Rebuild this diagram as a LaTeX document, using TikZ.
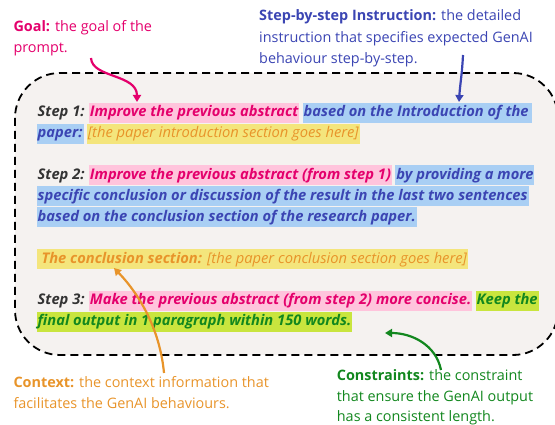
\documentclass[tikz,border=0pt]{standalone}
\usepackage{fontspec}
\setmainfont{Open Sans}
\usetikzlibrary{arrows.meta}
\definecolor{mag}{HTML}{E4006C}
\definecolor{pinkhl}{HTML}{FFC4DC}
\definecolor{bluetx}{HTML}{3B45B3}
\definecolor{bluehl}{HTML}{A9CFF4}
\definecolor{orangetx}{HTML}{E8942A}
\definecolor{yellowhl}{HTML}{F4E57C}
\definecolor{greentx}{HTML}{12871E}
\definecolor{greenhl}{HTML}{C9E53E}
\definecolor{graytx}{HTML}{333333}
\definecolor{boxfill}{HTML}{F5F2F0}
\tikzset{
  seg/.style={anchor=base west, inner xsep=1pt, inner ysep=0pt, text height=14.4pt, text depth=5.6pt,
    font=\fontsize{14.7}{17}\selectfont\bfseries\itshape},
  lbl/.style={seg, text=graytx},
  pk/.style={seg, fill=pinkhl, text=mag},
  bl/.style={seg, fill=bluehl, text=bluetx},
  yl/.style={seg, fill=yellowhl, text=orangetx},
  gr/.style={seg, fill=greenhl, text=greentx},
  ann/.style={anchor=north west, inner sep=0pt, align=left, font=\fontsize{14.4}{21.2}\selectfont},
  conn/.style={line width=2.2pt, -{Triangle[length=7pt,width=8pt]}},
  sp/.style={xshift=3pt}
}
\begin{document}
\begin{tikzpicture}[x=1pt,y=-1pt]
\useasboundingbox (0,0) rectangle (555,425);
% frame
\draw[line width=1.8pt, dash pattern=on 8pt off 5pt, fill=boxfill, rounded corners=45pt] (15,73) rectangle (558,355);
% step 1
\node[lbl] (s1a) at (36.5,117) {Step 1:};
\node[pk] (s1b) at ([sp]s1a.base east) {Improve the previous abstract};
\node[bl] (s1c) at ([sp]s1b.base east) {based on the Introduction of the\,};
\node[bl] (s1d) at (36.5,138) {paper:};
\node[yl] (s1e) at ([sp]s1d.base east) {\mdseries[the paper introduction section goes here]};
% step 2
\node[lbl] (s2a) at (36.5,179.5) {Step 2:};
\node[pk] (s2b) at ([sp]s2a.base east) {Improve the previous abstract (from step 1)};
\node[bl] (s2c) at ([sp]s2b.base east) {by providing a more};
\node[bl] (s2d) at (36.5,200.5) {specific conclusion or discussion of the result in the last two sentences};
\node[bl] (s2e) at (36.5,221.5) {based on the conclusion section of the research paper.};
% conclusion section
\node[yl] (cs) at (36.5,263.5) {\ The conclusion section: \mdseries[the paper conclusion section goes here]};
% step 3
\node[lbl] (s3a) at (36.5,305) {Step 3:};
\node[pk] (s3b) at ([sp]s3a.base east) {Make the previous abstract (from step 2) more concise.};
\node[gr] (s3c) at ([sp]s3b.base east) {Keep the};
\node[gr] (s3d) at (36.5,326) {final output in 1 paragraph within 150 words.};
% annotations
\node[ann, text=mag] (goal) at (13.3,19.8) {\textbf{Goal:} the goal of the\\prompt.};
\node[ann, text=bluetx] (instr) at (259,9.8) {\textbf{Step-by-step Instruction:} the detailed\\instruction that specifies expected GenAI\\behaviour step-by-step.};
\node[ann, text=orangetx] (ctx) at (13.3,376) {\textbf{Context:} the context information that\\facilitates the GenAI behaviours.};
\node[ann, text=greentx, font=\fontsize{14.4}{20.6}\selectfont] (cons) at (336.7,369.5) {\textbf{Constraints:} the constraint\\that ensure the GenAI output\\has a consistent length.};
% connector endpoints
\coordinate (goalS) at (91,58);
\coordinate (goalT) at (137,102);
\coordinate (instrS) at (463,55);
\coordinate (instrT) at (459,102);
\coordinate (ctxS) at (164,373);
\coordinate (ctxT) at (114,268);
\coordinate (consS) at (441,370);
\coordinate (consT) at (385,333);
\draw[conn, mag] (goalS) .. controls (92,78) and (137,74) .. (goalT);
\draw[conn, bluetx] (instrS) .. controls (462,75) and (460,85) .. (instrT);
\draw[conn, orangetx] (ctxS) .. controls (160,330) and (140,295) .. (ctxT);
\draw[conn, greentx] (consS) .. controls (436,345) and (412,333) .. (consT);
\end{tikzpicture}
\end{document}
